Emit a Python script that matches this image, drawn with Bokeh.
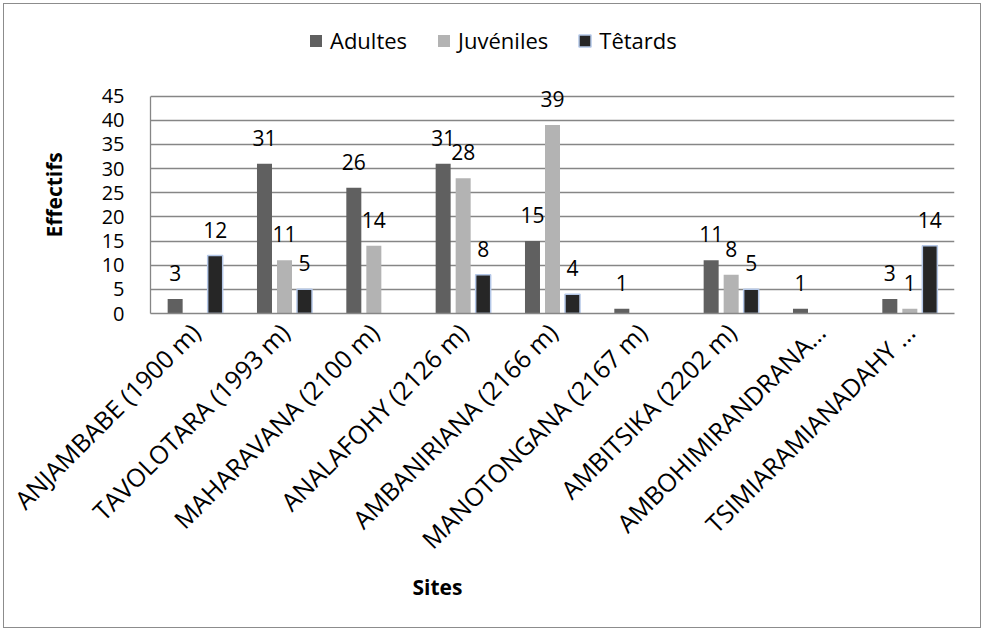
import math

from bokeh.core.properties import value
from bokeh.embed import file_html
from bokeh.models import (ColumnDataSource, FactorRange, LabelSet, Legend,
                          LegendItem, Range1d, Title)
from bokeh.plotting import figure
from bokeh.resources import INLINE
from bokeh.transform import dodge

# ---- data -------------------------------------------------------------
sites = [
    "ANJAMBABE (1900 m)",
    "TAVOLOTARA (1993 m)",
    "MAHARAVANA (2100 m)",
    "ANALAFOHY (2126 m)",
    "AMBANIRIANA (2166 m)",
    "MANOTONGANA (2167 m)",
    "AMBITSIKA (2202 m)",
    "AMBOHIMIRANDRANA…",
    "TSIMIARAMIANADAHY …",
]
adultes = [3, 31, 26, 31, 15, 1, 11, 1, 3]
juveniles = [0, 11, 14, 28, 39, 0, 8, 0, 1]
tetards = [12, 5, 0, 8, 4, 0, 5, 0, 14]
series_names = ["Adultes", "Juvéniles", "Têtards"]
y_ticks = [0, 5, 10, 15, 20, 25, 30, 35, 40, 45]

# ---- styling ----------------------------------------------------------
FONT = "Open Sans"
GRID = "#868686"
fills = ["#606060", "#b3b3b3", "#262626"]
outlines = [None, None, "#b4c7e7"]
offsets = [-0.224, 0.0, 0.224]
BAR_W = 0.168

# the frame reaches up to the legend row; the value axis stops at 45
p = figure(
    width=978, height=625,
    x_range=FactorRange(*sites),
    y_range=Range1d(0, 59.6),
    output_backend="svg", toolbar_location=None,
    min_border_left=146, min_border_right=28,
    min_border_top=21, min_border_bottom=316,
    styles={"border": "1px solid #8c8c8c", "margin": "3px"},
)
p.outline_line_color = None
p.background_fill_color = "white"
p.border_fill_color = "white"

p.xgrid.grid_line_color = None
p.ygrid.grid_line_color = GRID
p.ygrid.grid_line_width = 1.3

p.yaxis.ticker = y_ticks
p.yaxis.bounds = (0, 45)
p.yaxis.major_tick_out = 0
p.yaxis.major_tick_in = 0
p.yaxis.minor_tick_out = 0
p.yaxis.minor_tick_in = 0
p.yaxis.axis_line_color = GRID
p.yaxis.axis_line_width = 1.3
p.yaxis.major_label_standoff = 26
p.yaxis.major_label_text_font = FONT
p.yaxis.major_label_text_font_size = "20px"
p.yaxis.major_label_text_color = "black"

p.xaxis.major_tick_out = 0
p.xaxis.major_tick_in = 0
p.xaxis.axis_line_color = GRID
p.xaxis.axis_line_width = 1.3
p.xaxis.major_label_orientation = math.pi / 4
p.xaxis.major_label_standoff = 14
p.xaxis.major_label_text_font = FONT
p.xaxis.major_label_text_font_size = "25px"
p.xaxis.major_label_text_color = "black"

# ---- bars and value labels ----------------------------------------------
legend_items = []
for name, vals, fill, edge, off in zip(series_names, [adultes, juveniles, tetards],
                                       fills, outlines, offsets):
    keep = [(s, v) for s, v in zip(sites, vals) if v > 0]
    src = ColumnDataSource(dict(site=[k[0] for k in keep],
                                val=[k[1] for k in keep],
                                txt=[str(k[1]) for k in keep]))
    xs = dodge("site", off, range=p.x_range)
    r = p.vbar(x=xs, top="val", width=BAR_W, source=src,
               fill_color=fill,
               line_color=edge if edge else None,
               line_width=1.5 if edge else 0)
    legend_items.append(LegendItem(label=name, renderers=[r]))
    p.add_layout(LabelSet(x=xs, y="val", text="txt", source=src,
                          y_offset=26, text_align="center",
                          text_baseline="middle",
                          text_font=value(FONT), text_font_size="21px",
                          text_color="black"))

legend = Legend(items=legend_items, orientation="horizontal",
                location=(158, 258),
                label_text_font=FONT, label_text_font_size="22px",
                label_text_color="black",
                glyph_width=15, glyph_height=15,
                label_standoff=7, spacing=29,
                padding=0, margin=0,
                border_line_color=None, background_fill_alpha=0)
p.add_layout(legend)

# ---- axis titles ------------------------------------------------------
p.add_layout(Title(text="Effectifs", align="left", offset=76, standoff=62,
                   text_font=FONT, text_font_size="21px",
                   text_font_style="bold", text_color="black"), "left")
p.add_layout(Title(text="Sites", align="left", offset=262, standoff=0,
                   text_font=FONT, text_font_size="21px",
                   text_font_style="bold", text_color="black"), "below")

open("out.html", "w").write(file_html(p, INLINE))
